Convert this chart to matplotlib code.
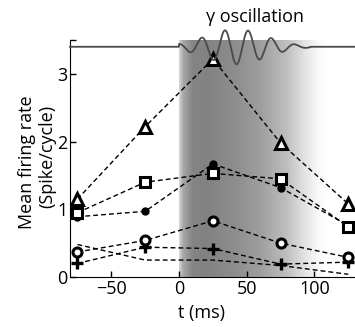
import numpy as np
import matplotlib
matplotlib.use('Agg')
import matplotlib.pyplot as plt

plt.rcParams['font.family'] = ['Open Sans', 'DejaVu Sans']

# time of each bin centre (ms)
t = [-75, -25, 25, 75, 125]

# mean firing rate (spike/cycle) per cell
tri = [1.15, 2.22, 3.22, 1.98, 1.08]
sq = [0.95, 1.40, 1.53, 1.45, 0.74]
dot = [0.89, 0.97, 1.67, 1.32, 0.76]
circ = [0.37, 0.54, 0.83, 0.50, 0.29]
plus = [0.20, 0.44, 0.42, 0.19, 0.22]
nomark = [0.48, 0.25, 0.25, 0.17, 0.04]

xticks = [-50, 0, 50, 100]
yticks = [0, 1, 2, 3]

fig = plt.figure(figsize=(3.55, 3.27), dpi=100)
ax = fig.add_axes([70/355, 50/327, 285/355, 237/327])

# grey shading for the gamma epoch
gx = np.linspace(0, 110, 500)
gv = np.interp(gx, [0, 3, 10, 20, 40, 60, 80, 92, 102, 110],
               [0.85, 0.66, 0.52, 0.51, 0.55, 0.62, 0.75, 0.88, 0.97, 1.0])
ax.imshow(gv[np.newaxis, :], extent=(0, 110, 0, 3.5), aspect='auto',
          cmap='gray', vmin=0, vmax=1, zorder=0, interpolation='bilinear')

dash = (3.5, 2.2)
kw = dict(color='k', lw=1, dashes=dash, zorder=3)
ax.plot(t, nomark, **kw)
ax.plot(t, plus, marker='+', ms=8, mew=2.4, **kw)
ax.plot(t, circ, marker='o', ms=6.5, mew=2.2, mfc='white', mec='k', **kw)
ax.plot(t, dot, marker='o', ms=5, mfc='k', mec='k', **kw)
ax.plot(t, sq, marker='s', ms=6.5, mew=2.2, mfc='white', mec='k', **kw)
ax.plot(t, tri, marker='^', ms=8, mew=2.2, mfc='white', mec='k', **kw)

# schematic gamma oscillation trace
ox = np.linspace(-80.5, 130, 1500)
env = np.exp(-((ox - 42) ** 2) / (2 * 22 ** 2))
env[(ox < 0) | (ox > 97)] = 0
oy = 3.4 - 0.26 * env * np.cos(2 * np.pi * (ox - 8.1) / 17.2)
ax.plot(ox, oy, color='#4a4a4a', lw=1.3, clip_on=False, zorder=4)

ax.text(56, 3.84, 'γ oscillation', ha='center', va='center', fontsize=13)

ax.set_xlim(-80.5, 130)
ax.set_ylim(0, 3.5)
ax.set_xticks(xticks)
ax.set_xticklabels(['\u221250', '0', '50', '100'])
ax.set_yticks(yticks + [3.5])
ax.set_yticklabels([str(v) for v in yticks] + [''])
ax.tick_params(direction='in', labelsize=13, length=4, width=1, pad=2)
ax.spines['top'].set_visible(False)
ax.spines['right'].set_visible(False)

fig.text(27/355, 1 - 162/327, 'Mean firing rate', rotation=90,
         ha='center', va='center', fontsize=13)
fig.text(47/355, 1 - 156/327, '(Spike/cycle)', rotation=90,
         ha='center', va='center', fontsize=13)
fig.text(202/355, 1 - 313/327, 't (ms)', ha='center', va='center', fontsize=13)

plt.savefig('out.png', dpi=100)
